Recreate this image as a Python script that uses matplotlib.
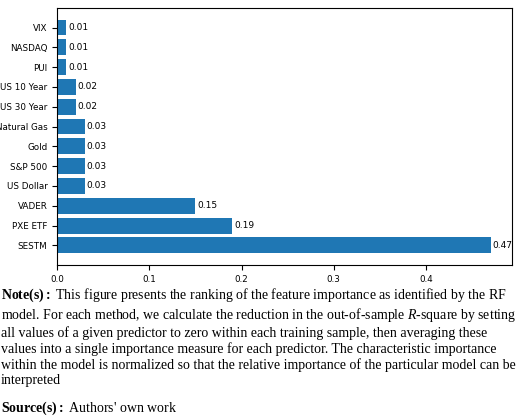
import matplotlib
matplotlib.use("Agg")
from matplotlib import pyplot as plt

plt.rcParams["mathtext.fontset"] = "custom"
plt.rcParams["mathtext.rm"] = "Liberation Serif"
plt.rcParams["mathtext.bf"] = "Liberation Serif:bold"
plt.rcParams["mathtext.it"] = "Liberation Serif:italic"

features = ["SESTM", "PXE ETF", "VADER", "US Dollar", "S&P 500", "Gold",
            "Natural Gas", "US 30 Year", "US 10 Year", "PUI", "NASDAQ", "VIX"]
importance = [0.47, 0.19, 0.15, 0.03, 0.03, 0.03, 0.03, 0.02, 0.02, 0.01, 0.01, 0.01]

fig = plt.figure(figsize=(5.2, 4.18), dpi=100)
ax = fig.add_axes([0.11, 0.366, 0.875, 0.615])
bars = ax.barh(features, importance, color="#1f77b4")
for b, v in zip(bars, importance):
    ax.text(b.get_width() + 0.002, b.get_y() + b.get_height() / 2, f"{v:.2f}",
            va="center", ha="left", fontsize=6.5)
ax.tick_params(labelsize=6.3)

note = ("$\\bf{Note(s):}$ This figure presents the ranking of the feature importance as identified by the RF\n"
        "model. For each method, we calculate the reduction in the out-of-sample $R$-square by setting\n"
        "all values of a given predictor to zero within each training sample, then averaging these\n"
        "values into a single importance measure for each predictor. The characteristic importance\n"
        "within the model is normalized so that the relative importance of the particular model can be\n"
        "interpreted")
fig.text(0.002, 0.315, note, fontsize=10, family="Liberation Serif", va="top",
         linespacing=1.2)
fig.text(0.002, 0.045, "$\\bf{Source(s):}$ Authors' own work", fontsize=10,
         family="Liberation Serif", va="top")
fig.savefig("out.png", dpi=100)
